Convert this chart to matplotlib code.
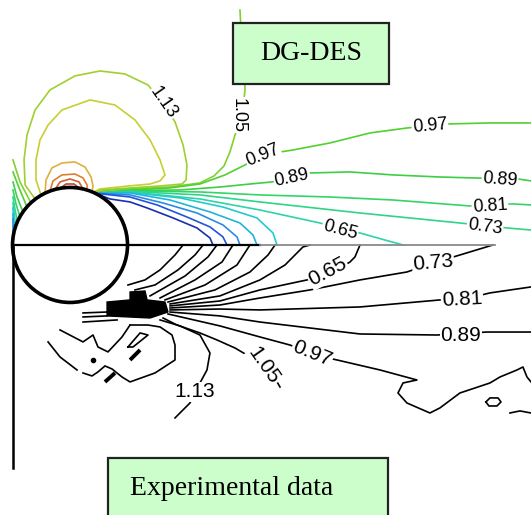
import matplotlib
matplotlib.use('Agg')
import matplotlib.pyplot as plt
from matplotlib.patches import Circle, Rectangle, Polygon
from matplotlib.colors import LinearSegmentedColormap, Normalize

# coordinates in x/D, y/D, cylinder centre at (0, 0)

# ---- DG-DES (upper half), velocity magnitude contours ----
des_153 = [(-0.087, 0.492), (-0.035, 0.530), (0.035, 0.530), (0.078, 0.496)]
des_145 = [(-0.130, 0.483), (-0.087, 0.548), (0.0, 0.574), (0.078, 0.548), (0.113, 0.487)]
des_137 = [(-0.174, 0.470), (-0.148, 0.557), (-0.070, 0.609), (0.043, 0.617), (0.113, 0.583),
           (0.148, 0.522), (0.148, 0.478)]
des_129 = [(-0.217, 0.452), (-0.209, 0.565), (-0.157, 0.670), (-0.070, 0.713), (0.043, 0.722),
           (0.130, 0.678), (0.183, 0.591), (0.200, 0.513), (0.191, 0.461)]
des_121 = [(-0.252, 0.435), (-0.296, 0.565), (-0.296, 0.739), (-0.261, 0.913), (-0.191, 1.043),
           (-0.070, 1.174), (0.174, 1.261), (0.391, 1.217), (0.565, 1.087), (0.696, 0.913),
           (0.783, 0.739), (0.826, 0.609), (0.783, 0.557), (0.696, 0.530), (0.478, 0.510),
           (0.261, 0.487), (0.200, 0.458)]
des_113 = [(-0.304, 0.400), (-0.391, 0.522), (-0.400, 0.739), (-0.374, 0.957), (-0.304, 1.174),
           (-0.174, 1.348), (0.043, 1.470), (0.261, 1.513), (0.478, 1.487), (0.678, 1.391),
           (0.809, 1.235), (0.913, 1.070), (0.983, 0.870), (1.017, 0.696), (1.009, 0.565),
           (0.974, 0.530), (0.783, 0.513), (0.522, 0.496), (0.261, 0.478), (0.209, 0.454)]
des_105 = [(1.478, 2.043), (1.487, 1.870), (1.513, 1.609), (1.522, 1.348), (1.496, 1.130),
           (1.435, 0.957), (1.391, 0.809), (1.339, 0.687), (1.252, 0.600), (1.130, 0.539),
           (0.870, 0.504), (0.522, 0.487), (0.304, 0.474), (0.213, 0.452)]
des_105_front = [(-0.496, 0.739), (-0.435, 0.548), (-0.339, 0.365)]
des_097 = [(0.217, 0.450), (0.522, 0.478), (0.870, 0.496), (1.130, 0.530), (1.348, 0.609),
           (1.522, 0.696), (1.670, 0.783), (1.939, 0.826), (2.261, 0.887), (2.609, 0.974),
           (2.930, 1.017), (3.278, 1.052), (3.652, 1.061), (4.009, 1.061)]
des_089 = [(0.217, 0.450), (0.522, 0.474), (0.957, 0.478), (1.304, 0.504), (1.565, 0.530),
           (1.757, 0.548), (2.087, 0.626), (2.435, 0.635), (2.809, 0.609), (3.217, 0.591),
           (3.504, 0.583), (3.896, 0.574), (4.009, 0.557)]
des_081 = [(0.217, 0.450), (0.522, 0.470), (1.130, 0.461), (1.652, 0.435), (2.261, 0.417),
           (2.809, 0.391), (3.478, 0.339), (3.852, 0.357), (4.009, 0.348)]
des_073 = [(0.217, 0.450), (0.522, 0.465), (1.130, 0.435), (1.652, 0.374), (2.522, 0.278),
           (3.391, 0.191), (3.800, 0.148), (4.009, 0.130)]
des_065 = [(0.217, 0.450), (0.522, 0.461), (1.130, 0.400), (1.652, 0.304), (2.174, 0.191),
           (2.391, 0.130), (2.522, 0.104), (2.739, 0.043), (2.896, 0.0)]
des_057 = [(0.217, 0.450), (0.522, 0.457), (0.957, 0.409), (1.330, 0.330), (1.626, 0.235),
           (1.765, 0.104), (1.800, 0.0)]
des_049 = [(0.217, 0.450), (0.522, 0.452), (0.870, 0.391), (1.217, 0.287), (1.478, 0.191),
           (1.591, 0.087), (1.626, 0.0)]
des_041 = [(0.217, 0.450), (0.522, 0.435), (0.809, 0.365), (1.104, 0.278), (1.330, 0.174),
           (1.452, 0.070), (1.478, 0.0)]
des_033 = [(0.217, 0.450), (0.522, 0.417), (0.757, 0.348), (1.017, 0.243), (1.217, 0.157),
           (1.330, 0.070), (1.365, 0.0)]
des_025 = [(0.217, 0.450), (0.348, 0.400), (0.522, 0.374), (0.670, 0.322), (0.896, 0.235),
           (1.104, 0.148), (1.217, 0.061), (1.243, 0.0)]
# short contours between the inflow edge and the front of the cylinder
des_097_front = [(-0.496, 0.635), (-0.443, 0.496), (-0.374, 0.330)]
des_089_front = [(-0.496, 0.548), (-0.461, 0.417), (-0.409, 0.287)]
des_081_front = [(-0.496, 0.478), (-0.470, 0.357), (-0.435, 0.243)]
des_073_front = [(-0.496, 0.417), (-0.478, 0.304), (-0.457, 0.204)]
des_065_front = [(-0.496, 0.365), (-0.473, 0.165)]
des_057_front = [(-0.496, 0.322), (-0.483, 0.130)]
des_049_front = [(-0.496, 0.270), (-0.490, 0.096)]
des_041_front = [(-0.496, 0.226), (-0.494, 0.061)]

des_lines = [
    (1.53, des_153), (1.45, des_145), (1.37, des_137), (1.29, des_129), (1.21, des_121),
    (1.13, des_113), (1.05, des_105), (1.05, des_105_front), (0.97, des_097), (0.89, des_089),
    (0.81, des_081), (0.73, des_073), (0.65, des_065), (0.57, des_057), (0.49, des_049),
    (0.41, des_041), (0.33, des_033), (0.25, des_025), (0.97, des_097_front),
    (0.89, des_089_front), (0.81, des_081_front), (0.73, des_073_front), (0.65, des_065_front),
    (0.57, des_057_front), (0.49, des_049_front), (0.41, des_041_front),
]

des_labels = ['1.13', '1.05', '0.97', '0.89', '0.97', '0.89', '0.81', '0.73', '0.65']
des_label_x = [0.809, 1.461, 1.678, 1.930, 3.130, 3.739, 3.652, 3.609, 2.348]
des_label_y = [1.235, 1.130, 0.783, 0.583, 1.035, 0.565, 0.339, 0.157, 0.130]
des_label_rot = [-55, -90, 22, 12, 5, -4, 4, -8, -15]

# ---- Experimental data (lower half) ----
exp_009 = [(0.504, -0.348), (0.652, -0.304), (0.783, -0.217), (0.913, -0.087), (0.983, 0.0)]
exp_017 = [(0.565, -0.391), (0.739, -0.348), (0.939, -0.217), (1.087, -0.087), (1.157, 0.0)]
exp_025 = [(0.696, -0.443), (1.000, -0.270), (1.200, -0.104), (1.278, 0.0)]
exp_033 = [(0.783, -0.461), (1.087, -0.304), (1.322, -0.148), (1.417, 0.0)]
exp_041 = [(0.826, -0.478), (1.174, -0.348), (1.452, -0.174), (1.565, 0.0)]
exp_049 = [(0.852, -0.496), (1.261, -0.391), (1.565, -0.235), (1.722, -0.087), (1.783, 0.0)]
exp_057 = [(0.870, -0.513), (1.304, -0.443), (1.652, -0.304), (1.870, -0.174), (2.026, -0.017),
           (2.087, 0.0)]
exp_065 = [(0.870, -0.530), (1.304, -0.487), (1.652, -0.391), (2.061, -0.304), (2.287, -0.235),
           (2.435, -0.148), (2.478, -0.104), (2.522, 0.0)]
exp_073 = [(0.870, -0.548), (1.304, -0.522), (1.652, -0.461), (2.087, -0.391), (2.522, -0.304),
           (2.930, -0.235), (3.130, -0.165), (3.391, -0.087), (3.678, 0.0)]
exp_081 = [(0.870, -0.565), (1.304, -0.557), (1.652, -0.565), (2.522, -0.539), (3.217, -0.478),
           (3.435, -0.470), (3.652, -0.417), (4.009, -0.365)]
exp_089 = [(0.870, -0.583), (1.304, -0.617), (1.652, -0.670), (2.522, -0.774), (3.191, -0.783),
           (3.626, -0.757), (4.009, -0.757)]
exp_097 = [(0.852, -0.600), (1.304, -0.704), (1.652, -0.800), (1.913, -0.870), (2.130, -0.957),
           (2.322, -1.000), (2.696, -1.087), (3.017, -1.174), (2.896, -1.200), (2.852, -1.287),
           (2.930, -1.374), (3.130, -1.461), (3.217, -1.417), (3.391, -1.287), (3.652, -1.200),
           (3.739, -1.148), (3.887, -1.087), (3.939, -1.061), (3.974, -1.148), (4.009, -1.191)]
exp_105 = [(0.809, -0.635), (0.930, -0.696), (1.130, -0.765), (1.278, -0.826), (1.435, -0.896),
           (1.539, -0.957), (1.670, -1.070), (1.791, -1.174), (1.826, -1.235)]
exp_113 = [(0.783, -0.652), (0.957, -0.704), (1.130, -0.783), (1.217, -0.939), (1.191, -1.087),
           (1.130, -1.200), (1.043, -1.374), (0.913, -1.504)]
exp_wake_a = [(-0.087, -0.739), (0.113, -0.843), (0.200, -0.783), (0.243, -0.887), (0.330, -0.930),
              (0.452, -0.800), (0.522, -0.696)]
exp_wake_b = [(0.522, -0.696), (0.678, -0.696), (0.783, -0.713), (0.887, -0.783), (0.913, -0.870),
              (0.913, -1.000), (0.739, -1.113), (0.522, -1.191), (0.452, -1.148), (0.365, -1.078),
              (0.304, -1.052), (0.243, -1.104), (0.191, -1.139), (0.113, -1.113)]
exp_wake_c = [(-0.191, -0.843), (-0.087, -0.974), (0.061, -1.087)]
exp_wake_d = [(0.504, -0.887), (0.609, -0.765), (0.678, -0.783), (0.548, -0.887), (0.504, -0.887)]
exp_near_1 = [(0.113, -0.591), (0.322, -0.583)]
exp_near_2 = [(0.113, -0.626), (0.322, -0.617)]
exp_near_3 = [(0.113, -0.670), (0.409, -0.652)]
exp_far_loop = [(3.617, -1.365), (3.652, -1.330), (3.722, -1.330), (3.748, -1.365), (3.713, -1.400),
                (3.643, -1.400), (3.617, -1.365)]
exp_far_bit = [(3.826, -1.461), (3.913, -1.443), (4.009, -1.461)]
exp_blob = [(0.322, -0.496), (0.522, -0.478), (0.522, -0.409), (0.652, -0.400), (0.670, -0.478),
            (0.826, -0.496), (0.852, -0.583), (0.696, -0.635), (0.322, -0.617)]
exp_dash_1 = [(0.522, -1.000), (0.609, -0.913)]
exp_dash_2 = [(0.304, -1.191), (0.391, -1.113)]
exp_dot = (0.200, -1.000)

exp_lines = [exp_009, exp_017, exp_025, exp_033, exp_041, exp_049, exp_057, exp_065, exp_073,
             exp_081, exp_089, exp_097, exp_105, exp_113, exp_wake_a, exp_wake_b, exp_wake_c,
             exp_wake_d, exp_near_1, exp_near_2, exp_near_3, exp_far_loop, exp_far_bit]

exp_labels = ['0.65', '0.73', '0.81', '0.89', '0.97', '1.05', '1.13']
exp_label_x = [2.243, 3.157, 3.409, 3.400, 2.104, 1.687, 1.087]
exp_label_y = [-0.235, -0.157, -0.470, -0.783, -0.948, -1.052, -1.278]
exp_label_rot = [28, 5, 3, 0, -22, -55, 0]


def xy(points):
    return [p[0] for p in points], [p[1] for p in points]


def main():
    fig = plt.figure(figsize=(5.31, 5.15), dpi=100)
    ax = fig.add_axes([0, 0, 1, 1])
    ax.set_xlim(-0.609, 4.009)
    ax.set_ylim(-2.348, 2.130)
    ax.axis('off')

    cmap = LinearSegmentedColormap.from_list('des', [
        '#1a2fb0', '#2255d8', '#2a8ee6', '#22b4d8', '#22ccd0', '#2dd4a8', '#30d488',
        '#35d46a', '#3ccf45', '#50d030', '#80d030', '#a0d030', '#c8d030', '#e0b040',
        '#e08030', '#d06030', '#b84a30'])
    norm = Normalize(vmin=0.25, vmax=1.53)

    for level, pts in des_lines:
        x, y = xy(pts)
        ax.plot(x, y, color=cmap(norm(level)), lw=1.2, zorder=2)

    for pts in exp_lines:
        x, y = xy(pts)
        ax.plot(x, y, color='black', lw=1.2, zorder=2)
    ax.add_patch(Polygon(exp_blob, closed=True, color='black', zorder=2))
    for pts in [exp_dash_1, exp_dash_2]:
        x, y = xy(pts)
        ax.plot(x, y, color='black', lw=2.8, solid_capstyle='butt', zorder=2)
    ax.plot([exp_dot[0]], [exp_dot[1]], 'o', color='black', ms=3, zorder=2)

    # symmetry line, inflow line and cylinder
    ax.plot([-0.5, 1.65], [0, 0], color='black', lw=1.6, zorder=3)
    ax.plot([1.65, 3.70], [0, 0], color='#8a8a8a', lw=1.3, zorder=3)
    ax.plot([-0.5, -0.5], [0, -1.94], color='black', lw=1.8, zorder=3)
    ax.add_patch(Circle((0, 0), 0.5, fill=False, ec='black', lw=2.6, zorder=4))

    for s, x, y, r in zip(des_labels, des_label_x, des_label_y, des_label_rot):
        ax.text(x, y, s, rotation=r, rotation_mode='anchor', ha='center', va='center',
                fontsize=13, family='Liberation Sans', zorder=5,
                bbox=dict(fc='white', ec='none', pad=0.6))
    for s, x, y, r in zip(exp_labels, exp_label_x, exp_label_y, exp_label_rot):
        ax.text(x, y, s, rotation=r, rotation_mode='anchor', ha='center', va='center',
                fontsize=15, family='Liberation Sans', zorder=5,
                bbox=dict(fc='white', ec='none', pad=0.6))

    # title boxes
    ax.add_patch(Rectangle((1.417, 1.400), 1.357, 0.530, fc='#ccfecc', ec='#222222',
                           lw=1.6, zorder=6))
    ax.text(2.095, 1.665, 'DG-DES', ha='center', va='center', fontsize=20,
            family='Liberation Serif', zorder=7)
    ax.add_patch(Rectangle((0.330, -2.50), 2.435, 0.648, fc='#ccfecc', ec='#222222',
                           lw=1.6, zorder=6, clip_on=True))
    ax.text(0.522, -2.115, 'Experimental data', ha='left', va='center', fontsize=20,
            family='Liberation Serif', zorder=7)

    plt.savefig('out.png', dpi=100)


if __name__ == '__main__':
    main()
